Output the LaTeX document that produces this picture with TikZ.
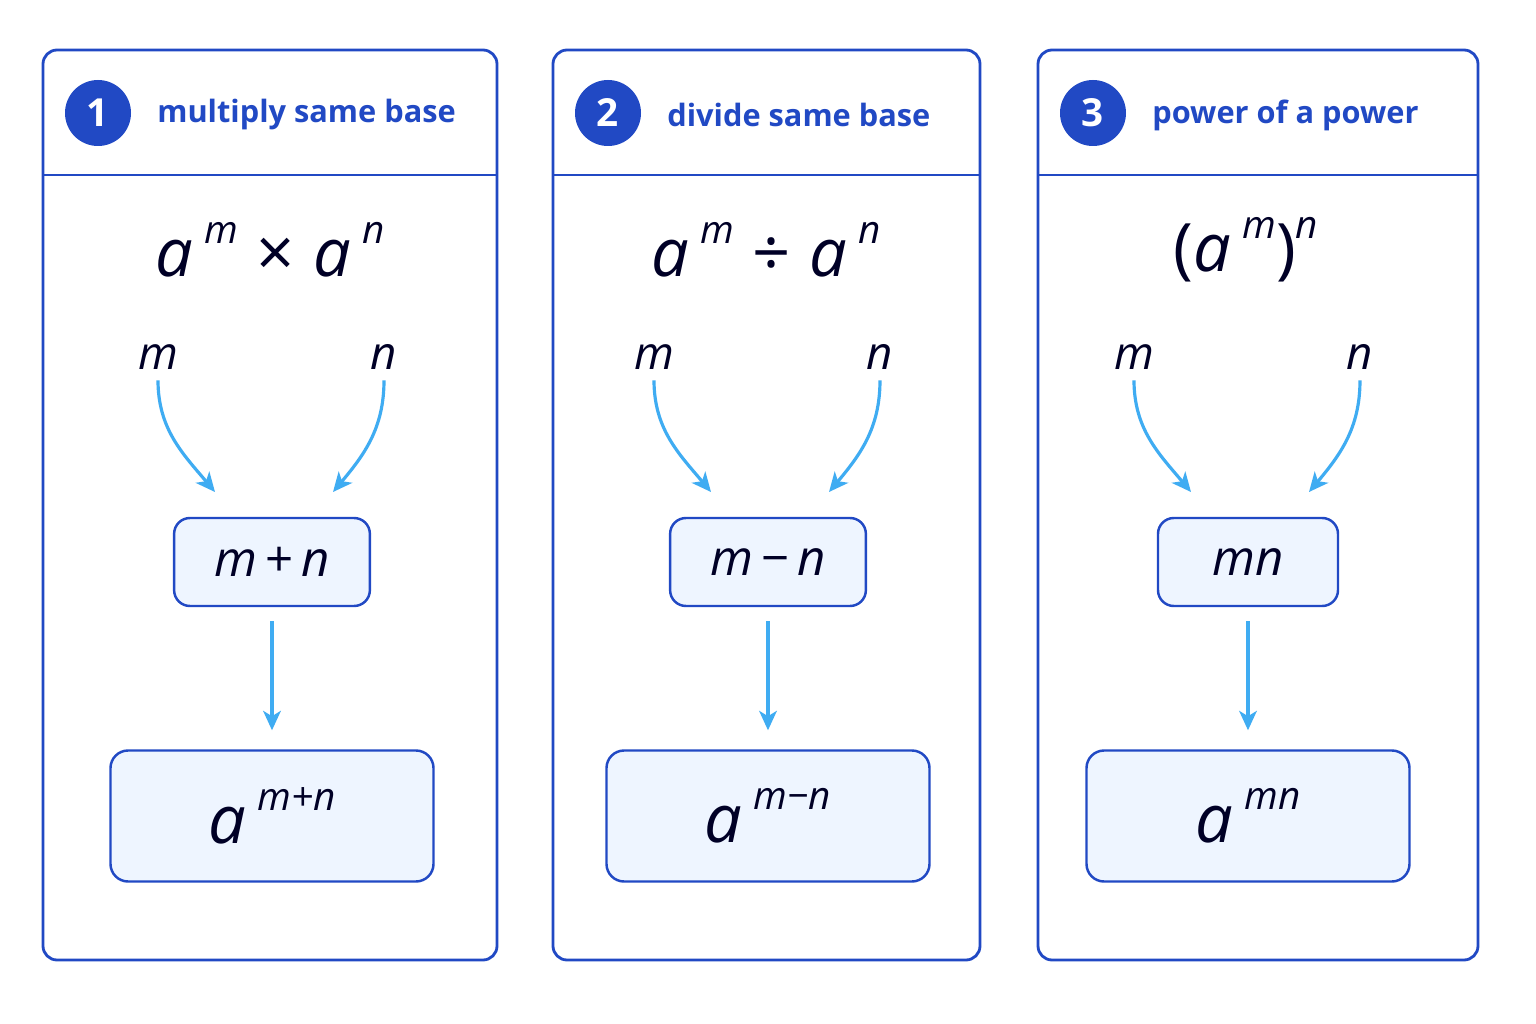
\documentclass[tikz,border=0pt]{standalone}
\usepackage{fontspec}
\setmainfont{Open Sans}
\usetikzlibrary{calc,arrows.meta}
\definecolor{lawblue}{HTML}{2149C4}
\definecolor{arrowblue}{HTML}{3FACF2}
\definecolor{boxfill}{HTML}{EEF5FF}
\newcommand{\pw}[2]{#1\,\raisebox{0.5em}{\fontsize{22}{24}\selectfont #2}}
\newcommand{\lawpanel}[9]{
	\draw[panel] (#2,50) rectangle (#3,960);
	\draw[panel] (#2,175) -- (#3,175);
	\node[numdot] (num_#1) at (#2+55,113) {#5};
	\node[title_txt, right=0pt] (title_#1) at (#2+114,115) {#6};
	\node[formula] (f_#1) at (#4,250) {#7};
	\node[var_txt] (m_#1) at (#4-112,357) {m};
	\node[var_txt] (n_#1) at (#4+114,357) {n};
	\coordinate (mt_#1) at (#4-55,492);
	\coordinate (nt_#1) at (#4+63,492);
	\node[midbox] (mid_#1) at (#4+2,562) {#8};
	\node[resbox] (res_#1) at (#4+2,816) {#9};
	\draw[flow] (m_#1.south) to[out=-90,in=130] (mt_#1);
	\draw[flow] (n_#1.south) to[out=-90,in=50] (nt_#1);
	\draw[flow] ($(mid_#1.south)+(0,14)$) -- ($(res_#1.north)+(0,-19)$);
}

\begin{document}
\begin{tikzpicture}[x=0.02cm,y=-0.02cm]
	\tikzstyle{panel}=[draw=lawblue, line width=1.6pt, rounded corners=8pt];
	\tikzstyle{numdot}=[circle, fill=lawblue, text=white, minimum size=66*0.02cm, inner sep=0pt, font=\fontsize{22}{24}\selectfont\bfseries];
	\tikzstyle{title_txt}=[text=lawblue, font=\fontsize{17.5}{21}\selectfont\bfseries, inner sep=0pt, anchor=west];
	\tikzstyle{formula}=[font=\fontsize{38}{40}\selectfont\itshape, text=black!85!blue];
	\tikzstyle{var_txt}=[font=\fontsize{26}{28}\selectfont\itshape, text=black!85!blue, inner sep=6pt];
	\tikzstyle{midbox}=[draw=lawblue, line width=1.4pt, fill=boxfill, rounded corners=9pt, minimum width=180*0.02cm, inner xsep=40*0.02cm, minimum height=88*0.02cm, font=\fontsize{28}{30}\selectfont\itshape, text=black!85!blue];
	\tikzstyle{resbox}=[draw=lawblue, line width=1.4pt, fill=boxfill, rounded corners=10pt, minimum width=323*0.02cm, minimum height=131*0.02cm, font=\fontsize{38}{40}\selectfont\itshape, text=black!85!blue];
	\tikzstyle{flow}=[draw=arrowblue, line width=1.8pt, -{Stealth[length=11pt,width=10pt,inset=3pt]}];

	\useasboundingbox[fill=white] (0,0) rectangle (1536,1024);

	\lawpanel{one}{43}{497}{270}{1}{multiply same base}{\pw{a}{m}\;{\upshape ×}\;\pw{a}{n}}{m\,{\upshape +}\,n}{\pw{a}{m+n}}
	\lawpanel{two}{553}{980}{766}{2}{divide same base}{\pw{a}{m}\;{\upshape ÷}\;\pw{a}{n}}{m\,{\upshape −}\,n}{\pw{a}{m−n}}
	\lawpanel{three}{1038}{1478}{1246}{3}{power of a power}{{\upshape(}\pw{a}{m}{\upshape)}\raisebox{0.5em}{\fontsize{22}{24}\selectfont n}}{mn}{\pw{a}{mn}}
\end{tikzpicture}
\end{document}
